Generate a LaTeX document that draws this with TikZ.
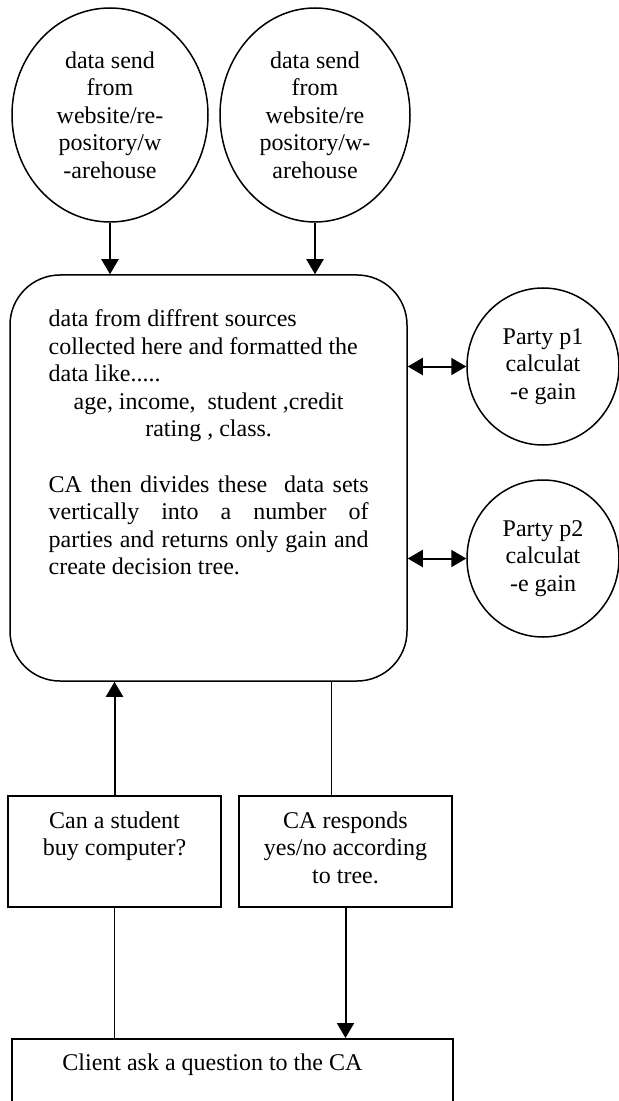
\documentclass[tikz,border=0pt]{standalone}
\usepackage{fontspec}
\setmainfont{Liberation Serif}
\usetikzlibrary{arrows.meta,shapes.geometric}

\begin{document}
\begin{tikzpicture}[
    x=0.5pt, y=-0.5pt,
    font=\fontsize{12pt}{13.8pt}\selectfont,
    source/.style={ellipse, draw=black, line width=0.75pt, inner sep=0pt, align=center, minimum height=107pt},
    party/.style={ellipse, draw=black, line width=0.75pt, inner sep=0pt, align=center, minimum width=76pt, minimum height=78.5pt},
    centre/.style={draw=black, line width=0.75pt, rounded corners=25pt, minimum width=198.5pt, minimum height=203pt},
    qbox/.style={rectangle, draw=black, line width=0.75pt, align=center, minimum width=106.5pt, minimum height=55.5pt, inner sep=0pt},
    arrow/.style={-{Triangle[width=8.5pt,length=7.5pt]}, line width=1pt},
    dblarrow/.style={{Triangle[width=8.5pt,length=7.5pt]}-{Triangle[width=8.5pt,length=7.5pt]}, line width=1pt},
    link/.style={line width=0.9pt}
]
    \useasboundingbox (0,0) rectangle (618,1101);

    % Data sources
    \node[source, minimum width=98pt] (src1) at (110,115) {data send\\from\\website/re-\\pository/w\\-arehouse};
    \node[source, minimum width=95pt] (src2) at (315,115) {data send\\from\\website/re\\pository/w-\\arehouse};

    % Central authority
    \node[centre] (ca) at (208.5,478) {};
    \node[anchor=north west, inner sep=0pt, text width=160pt, align=justify] (catext)
        at ([xshift=19.5pt, yshift=-17.5pt]ca.north west) {%
        {\raggedright data from diffrent sources\\collected here and formatted the\\data like.....\par}
        {\centering age, income,\ \ student ,credit\\rating , class.\par}
        \vskip13.8pt
        CA then divides these\ \ data sets\linebreak
        vertically into a number of\linebreak
        parties and returns only gain and\linebreak
        create decision tree.};

    % Parties
    \node[party] (p1) at (543,366.5) {Party p1\\calculat\\-e gain};
    \node[party] (p2) at (543,558.5) {Party p2\\calculat\\-e gain};

    % Query and answer
    \node[qbox] (can) at (114.5,851.5) {Can a student\\buy computer?\\\strut};
    \node[qbox] (resp) at (345.5,851.5) {CA responds\\yes/no according\\to tree.\strut};

    % Client
    \node[rectangle, draw=black, line width=0.75pt, anchor=north west, minimum width=220.5pt, minimum height=50pt] (client) at (11,1038) {};
    \node[anchor=west, inner sep=0pt] (asktext) at ([xshift=25.5pt, yshift=-13.5pt]client.north west) {Client ask a question to the CA};

    % Edges from sources
    \draw[arrow] (src1.south) -- (src1.south |- ca.north);
    \draw[arrow] (src2.south) -- (src2.south |- ca.north);

    % Edges to parties
    \draw[dblarrow] (ca.east |- p1.west) -- (p1.west);
    \draw[dblarrow] (ca.east |- p2.west) -- (p2.west);

    % Edges between CA, boxes and client
    \coordinate (back) at ([xshift=-7pt]resp.north);
    \draw[arrow] (can.north) -- (can.north |- ca.south);
    \draw[link] (back |- ca.south) -- (back);
    \draw[link] (can.south) -- (can.south |- client.north);
    \draw[arrow] (resp.south) -- (resp.south |- client.north);

\end{tikzpicture}
\end{document}
